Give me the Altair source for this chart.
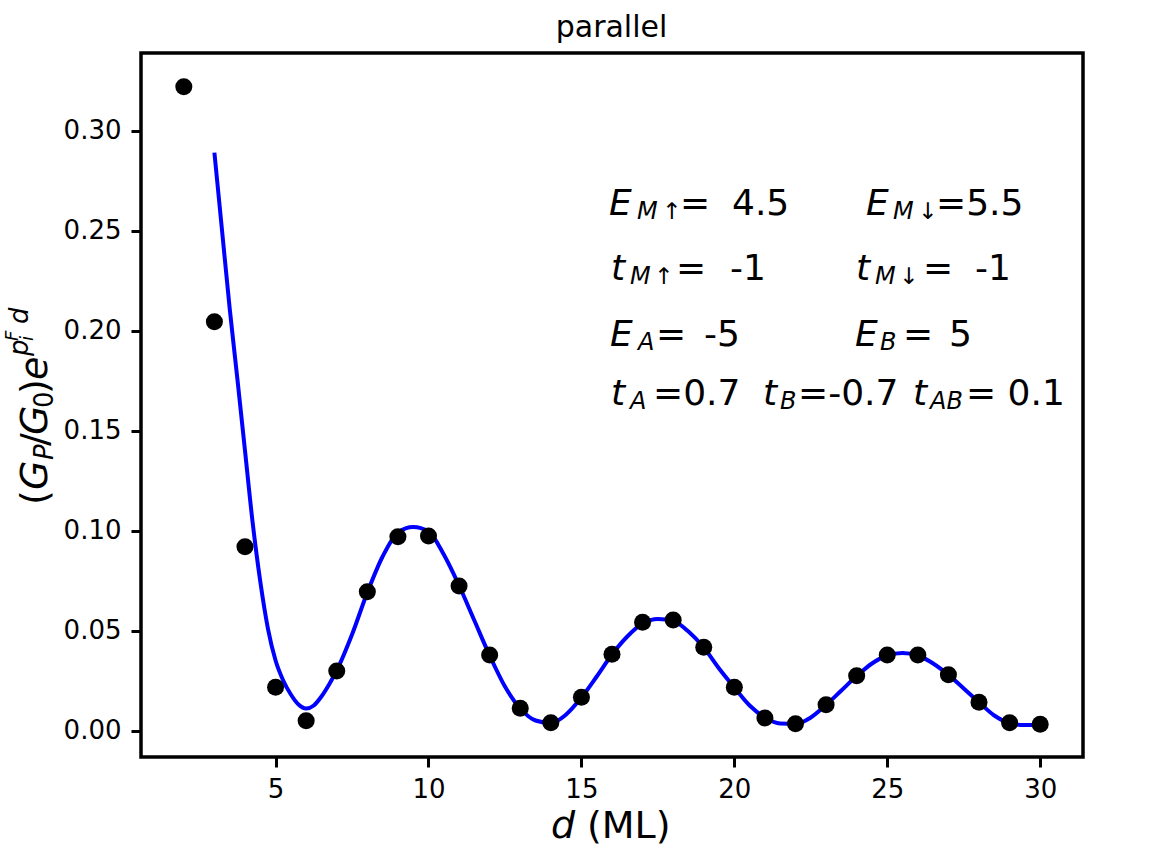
import altair as alt
import pandas as pd

# ---------------- data ----------------
d_points = list(range(2, 31))
g_points = [0.3219, 0.2044, 0.0919, 0.0216, 0.0049, 0.0298, 0.0694, 0.0969, 0.0973,
            0.0723, 0.0378, 0.0111, 0.0039, 0.0166, 0.0381, 0.0541, 0.0553, 0.0416,
            0.0216, 0.0063, 0.0034, 0.0129, 0.0274, 0.0378, 0.0378, 0.0279, 0.0141,
            0.0039, 0.0031]

fit_d = [3.0, 3.25, 3.5, 3.75, 4.0, 4.25, 4.5, 4.75, 5.0, 5.25, 5.5, 5.75, 6.0, 6.25,
         6.5, 6.75, 7.0, 7.5, 8.0, 8.5, 9.0, 9.5, 10.0, 10.5, 11.0, 11.5, 12.0, 12.5,
         13.0, 13.5, 14.0, 14.5, 15.0, 15.5, 16.0, 16.5, 17.0, 17.5, 18.0, 18.5, 19.0,
         19.5, 20.0, 20.5, 21.0, 21.5, 22.0, 22.5, 23.0, 23.5, 24.0, 24.5, 25.0, 25.5,
         26.0, 26.5, 27.0, 27.5, 28.0, 28.5, 29.0, 29.5, 30.0]
fit_g = [0.289, 0.250, 0.211, 0.176, 0.140, 0.104, 0.0745, 0.051, 0.035, 0.025, 0.018,
         0.013, 0.011, 0.0125, 0.017, 0.023, 0.030, 0.048, 0.069, 0.087, 0.099, 0.1018,
         0.0995, 0.088, 0.0725, 0.055, 0.0375, 0.022, 0.011, 0.005, 0.0037, 0.008,
         0.0165, 0.027, 0.038, 0.047, 0.0535, 0.0558, 0.0548, 0.0495, 0.0415, 0.031,
         0.0215, 0.0125, 0.0065, 0.0035, 0.0033, 0.0065, 0.0128, 0.020, 0.0272, 0.0335,
         0.0375, 0.0388, 0.0375, 0.0335, 0.0278, 0.021, 0.0141, 0.0075, 0.0037, 0.0027,
         0.0028]

x_ticks = [5, 10, 15, 20, 25, 30]
y_ticks = [0.0, 0.05, 0.10, 0.15, 0.20, 0.25, 0.30]

# ---------------- layout ----------------
X_DOMAIN = [0.6, 31.4]
Y_DOMAIN = [-0.01325, 0.3388]
LEFT, TOP, W, H = 141, 53, 942, 704
FONT = "DejaVu Sans"


def to_x(px):
    return X_DOMAIN[0] + (px - LEFT) / W * (X_DOMAIN[1] - X_DOMAIN[0])


def to_y(py):
    return Y_DOMAIN[1] - (py - TOP) / H * (Y_DOMAIN[1] - Y_DOMAIN[0])


xs = alt.Scale(domain=X_DOMAIN, nice=False, zero=False)
ys = alt.Scale(domain=Y_DOMAIN, nice=False, zero=False)

pts = pd.DataFrame({"d": d_points, "g": g_points})
fit = pd.DataFrame({"d": fit_d, "g": fit_g})

x_axis = alt.Axis(values=x_ticks, title=None, grid=False, domain=False,
                  labelFont=FONT, labelFontSize=26, labelColor="black",
                  tickColor="black", tickSize=10, tickWidth=3, labelPadding=9,
                  labelFlush=False)
y_axis = alt.Axis(values=y_ticks, format=".2f", title=None, grid=False, domain=False,
                  labelFont=FONT, labelFontSize=26, labelColor="black",
                  tickColor="black", tickSize=10, tickWidth=3, labelPadding=10)

line = alt.Chart(fit).mark_line(color="#0000ff", strokeWidth=4,
                                interpolate="monotone").encode(
    x=alt.X("d:Q", scale=xs, axis=x_axis),
    y=alt.Y("g:Q", scale=ys, axis=y_axis),
)

dots = alt.Chart(pts).mark_circle(color="black", size=290, opacity=1).encode(
    x=alt.X("d:Q", scale=xs),
    y=alt.Y("g:Q", scale=ys),
)

# text pieces: (text, px, py, size, italic)
annot = [
    ("E", 609, 215, 36, True), ("M", 637, 219, 24, True), ("\u2191", 662, 219, 23, False),
    ("=", 680, 215, 36, False), ("4.5", 732, 215, 36, False),
    ("E", 866, 215, 36, True), ("M", 893, 219, 24, True), ("\u2193", 918, 219, 23, False),
    ("=5.5", 936, 215, 36, False),
    ("t", 611, 280, 36, True), ("M", 630, 284, 24, True), ("\u2191", 654, 284, 23, False),
    ("=", 676, 280, 36, False), ("-1", 730, 280, 36, False),
    ("t", 856, 280, 36, True), ("M", 875, 284, 24, True), ("\u2193", 899, 284, 23, False),
    ("=", 923, 280, 36, False), ("-1", 975, 280, 36, False),
    ("E", 610, 346, 36, True), ("A", 638, 350, 24, True), ("=", 656, 346, 36, False),
    ("-5", 704, 346, 36, False),
    ("E", 855, 346, 36, True), ("B", 880, 350, 24, True), ("=", 903, 346, 36, False),
    ("5", 949, 346, 36, False),
    ("t", 611, 405, 36, True), ("A", 630, 409, 24, True), ("=0.7", 653, 405, 36, False),
    ("t", 763, 405, 36, True), ("B", 780, 409, 24, True), ("=-0.7", 798, 405, 36, False),
    ("t", 913, 405, 36, True), ("AB", 930, 409, 24, True), ("= 0.1", 966, 405, 36, False),
    # x axis title
    ("d", 551, 838, 38, True), ("(ML)", 587, 838, 38, False),
]

ylabel = [
    ("(", 47, 505, 38, False), ("G", 47, 490, 38, True), ("P", 53, 460, 26, True),
    ("/", 47, 446, 38, False), ("G", 47, 435, 38, True), ("0", 53, 408, 26, False),
    (")", 47, 394, 38, False), ("e", 47, 380, 38, True), ("p", 28, 356, 26, True),
    ("i", 33, 341, 18, True), ("F", 18, 341, 18, True), ("d", 28, 324, 26, True),
]


def frame(rows):
    return pd.DataFrame({
        "t": [r[0] for r in rows],
        "x": [to_x(r[1]) for r in rows],
        "y": [to_y(r[2]) for r in rows],
        "fs": [r[3] for r in rows],
        "it": [r[4] for r in rows],
    })


def text_layer(df, italic, angle=0, align="left"):
    sub = df[df["it"] == italic]
    kw = dict(font=FONT, color="black", align=align, baseline="alphabetic",
              fontStyle="italic" if italic else "normal")
    if angle:
        kw["angle"] = angle
    return alt.Chart(sub).mark_text(**kw).encode(
        x=alt.X("x:Q", scale=xs),
        y=alt.Y("y:Q", scale=ys),
        text="t:N",
        size=alt.Size("fs:Q", scale=None, legend=None),
    )


adf = frame(annot)
ydf = frame(ylabel)
tdf = frame([("parallel", 611.5, 37, 30, False)])

layers = [
    line, dots,
    text_layer(adf, True), text_layer(adf, False),
    text_layer(ydf, True, angle=270), text_layer(ydf, False, angle=270),
    text_layer(tdf, False, align="center"),
]

chart = alt.layer(*layers).properties(
    width=W, height=H,
    autosize=alt.AutoSizeParams(type="none"),
    padding={"left": LEFT, "top": TOP, "right": 1150 - LEFT - W, "bottom": 855 - TOP - H},
    background="white",
).configure_view(stroke="black", strokeWidth=3.5)

chart.save("out.html", embed_options={"renderer": "svg", "actions": False})
